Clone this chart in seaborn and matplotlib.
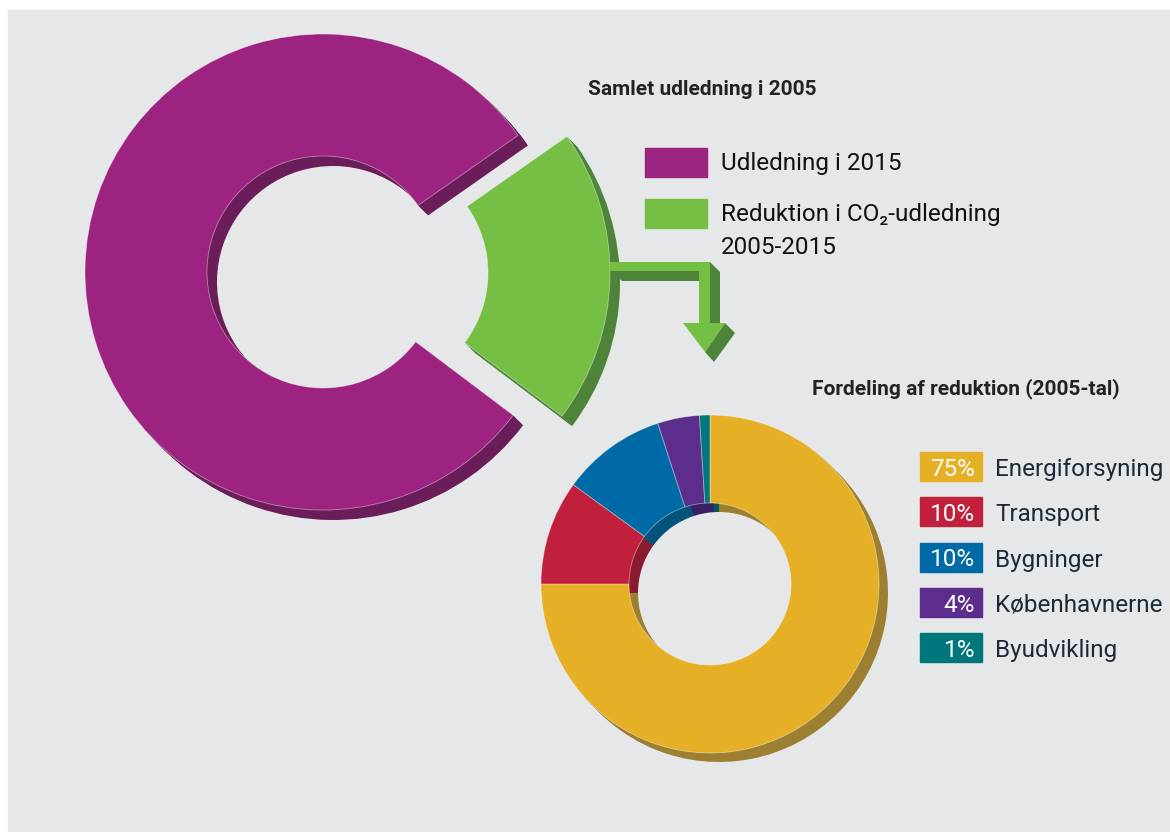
import matplotlib
matplotlib.use("Agg")
import matplotlib.pyplot as plt
import seaborn as sns
from matplotlib.patches import Rectangle, Polygon

# Samlet udledning i 2005 (reduction first so it sits on the right)
total_labels = ["Reduktion i CO₂-udledning\n2005-2015", "Udledning i 2015"]
total_shares = [20, 80]
total_colors = ["#74bf44", "#9c2380"]
total_shadow = ["#4e843a", "#6b1d5a"]

# Fordeling af reduktion (2005-tal)
red_labels = ["Energiforsyning", "Transport", "Bygninger", "Københavnerne", "Byudvikling"]
red_shares = [75, 10, 10, 4, 1]
red_colors = ["#e6b026", "#c0203b", "#006aa6", "#5c2d8c", "#00777a"]
red_shadow = ["#9c7f30", "#8a1a2e", "#05527a", "#3d1f63", "#005a5c"]

W, H = 1170, 832
BG = "#e6e7e9"
FONT = ["Roboto", "DejaVu Sans"]


def py(y):
    # pixel row -> data y (y axis points up)
    return H - y


def ring(ax, values, colors, shadow, center, radius, width, depth, **kw):
    cx, cy = center
    # extruded look: stack darker copies shifted down-right
    for k in range(1, depth + 1):
        ax.pie(values, colors=sns.color_palette(shadow), center=(cx + k, cy - k),
               radius=radius, frame=True,
               wedgeprops=dict(width=width, linewidth=0), **kw)
    ax.pie(values, colors=sns.color_palette(colors), center=(cx, cy),
           radius=radius, frame=True,
           wedgeprops=dict(width=width, edgecolor=(1, 1, 1, 0.45), linewidth=0.6), **kw)


sns.set_style("white")
plt.rcParams["font.family"] = FONT

fig = plt.figure(figsize=(W / 100, H / 100), dpi=100)
ax = fig.add_axes([0, 0, 1, 1])
ax.add_patch(Rectangle((8, 0), W - 8, H - 10, color=BG, zorder=-5))

# big ring with the reduction pulled out
ring(ax, total_shares, total_colors, total_shadow, center=(323, py(272)),
     radius=238, width=122, depth=10, startangle=-37, explode=[49, 0])

# small ring with the split of the reduction
ring(ax, red_shares, red_colors, red_shadow, center=(710, py(584)),
     radius=169, width=88, depth=9, startangle=90, counterclock=False)

# green 3D arrow from the pulled-out wedge to the small ring
light, dark = total_colors[0], total_shadow[0]
arrow_parts = [
    ([(610, 262), (710, 262), (710, 323), (699, 323), (699, 271), (610, 271)], light),
    ([(612, 271), (699, 271), (699, 281), (622, 281)], dark),
    ([(710, 262), (720, 272), (720, 323), (710, 323)], dark),
    ([(725, 323), (735, 333), (714, 362), (705, 352)], dark),
    ([(683, 323), (725, 323), (705, 352)], light),
]
for pts, col in arrow_parts:
    ax.add_patch(Polygon([(x, py(y)) for x, y in pts], closed=True,
                         facecolor=col, edgecolor="none", zorder=5))

# titles
ax.text(588, py(95), "Samlet udledning i 2005", fontsize=15, fontweight="bold",
        color="#222222", va="baseline", ha="left")
ax.text(812, py(394), "Fordeling af reduktion (2005-tal)", fontsize=15,
        fontweight="bold", color="#222222", va="baseline", ha="left")

# legend for the big ring
for i, idx in enumerate([1, 0]):
    top = 148 + i * 51
    ax.add_patch(Rectangle((645, py(top + 29)), 62, 29, color=total_colors[idx]))
    for j, line in enumerate(total_labels[idx].split("\n")):
        ax.text(721, py(top + 22 + j * 33), line, fontsize=17.5, color="#111111",
                va="baseline", ha="left")

# legend for the small ring
for i, (lab, val, col) in enumerate(zip(red_labels, red_shares, red_colors)):
    top = 452 + i * 45.25
    ax.add_patch(Rectangle((920, py(top + 29)), 62, 29, color=col))
    ax.text(975, py(top + 24), f"{val}%", fontsize=17.5, color="white",
            va="baseline", ha="right")
    ax.text(995, py(top + 24), lab, fontsize=17.5, color="#1d2a35",
            va="baseline", ha="left")

ax.set_xlim(0, W)
ax.set_ylim(0, H)
ax.set_aspect("equal")
ax.set_axis_off()

fig.savefig("out.png", dpi=100, facecolor="white")
